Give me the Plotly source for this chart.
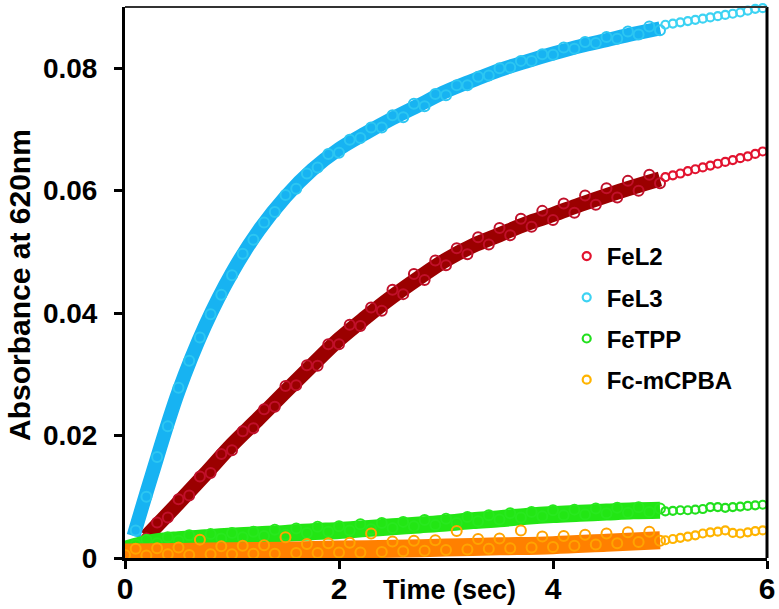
import plotly.graph_objects as go

# ---------------- data ----------------
series_names = ["FeL2", "FeL3", "FeTPP", "Fc-mCPBA"]

# smoothed centre of the dense band (0.25 s steps)
fel2_band_t = [0.20, 0.50, 0.75, 1.00, 1.25, 1.50, 1.75, 2.00, 2.25, 2.50, 2.75,
               3.00, 3.25, 3.50, 3.75, 4.00, 4.25, 4.50, 4.75, 5.00]
fel2_band_a = [0.0035, 0.0090, 0.0137, 0.0185, 0.0228, 0.0272, 0.0315, 0.0357, 0.0393,
               0.0427, 0.0458, 0.0487, 0.0510, 0.0528, 0.0546, 0.0561, 0.0577, 0.0592,
               0.0606, 0.0619]

fel3_band_t = [0.08, 0.25, 0.50, 0.75, 1.00, 1.25, 1.50, 1.75, 2.00, 2.25, 2.50, 2.75,
               3.00, 3.25, 3.50, 3.75, 4.00, 4.25, 4.50, 4.75, 5.00]
fel3_band_a = [0.0036, 0.0135, 0.0272, 0.0380, 0.0466, 0.0535, 0.0590, 0.0634, 0.0668,
               0.0694, 0.0718, 0.0740, 0.0762, 0.0780, 0.0797, 0.0811, 0.0824, 0.0836,
               0.0846, 0.0856, 0.0865]

fetpp_band_t = [0.00, 0.25, 0.50, 0.75, 1.00, 1.25, 1.50, 1.75, 2.00, 2.25, 2.50, 2.75,
                3.00, 3.25, 3.50, 3.75, 4.00, 4.25, 4.50, 4.75, 5.00]
fetpp_band_a = [0.0014, 0.0025, 0.0030, 0.0033, 0.0036, 0.0038, 0.0040, 0.0043, 0.0045,
                0.0048, 0.0051, 0.0054, 0.0057, 0.0061, 0.0064, 0.0068, 0.0071, 0.0073,
                0.0075, 0.0077, 0.0078]

fc_band_t = [0.0, 0.5, 1.0, 1.5, 2.0, 2.5, 3.0, 3.5, 4.0, 4.5, 5.0]
fc_band_a = [0.0009, 0.0010, 0.0011, 0.0012, 0.0014, 0.0015, 0.0017, 0.0019, 0.0021,
             0.0025, 0.0029]

# individual scattered readings around the band (0.1 s steps)
fel2_pts_t = [0.2, 0.3, 0.4, 0.5, 0.6, 0.7, 0.8, 0.9, 1.0, 1.1, 1.2, 1.3, 1.4, 1.5, 1.6,
              1.7, 1.8, 1.9, 2.0, 2.1, 2.2, 2.3, 2.4, 2.5, 2.6, 2.7, 2.8, 2.9, 3.0, 3.1,
              3.2, 3.3, 3.4, 3.5, 3.6, 3.7, 3.8, 3.9, 4.0, 4.1, 4.2, 4.3, 4.4, 4.5, 4.6,
              4.7, 4.8, 4.9, 5.0]
fel2_pts_a = [0.0032, 0.0058, 0.0066, 0.0096, 0.0102, 0.0133, 0.0139, 0.0170, 0.0176,
              0.0207, 0.0212, 0.0243, 0.0247, 0.0281, 0.0282, 0.0315, 0.0314, 0.0349,
              0.0349, 0.0381, 0.0379, 0.0409, 0.0404, 0.0438, 0.0431, 0.0464, 0.0454,
              0.0486, 0.0478, 0.0506, 0.0496, 0.0524, 0.0512, 0.0539, 0.0527, 0.0554,
              0.0541, 0.0567, 0.0552, 0.0579, 0.0564, 0.0592, 0.0577, 0.0604, 0.0589,
              0.0616, 0.0600, 0.0626, 0.0612]

fel3_pts_t = [0.1, 0.2, 0.3, 0.4, 0.5, 0.6, 0.7, 0.8, 0.9, 1.0, 1.1, 1.2, 1.3, 1.4, 1.5,
              1.6, 1.7, 1.8, 1.9, 2.0, 2.1, 2.2, 2.3, 2.4, 2.5, 2.6, 2.7, 2.8, 2.9, 3.0,
              3.1, 3.2, 3.3, 3.4, 3.5, 3.6, 3.7, 3.8, 3.9, 4.0, 4.1, 4.2, 4.3, 4.4, 4.5,
              4.6, 4.7, 4.8, 4.9, 5.0]
fel3_pts_a = [0.0045, 0.0100, 0.0165, 0.0215, 0.0278, 0.0322, 0.0360, 0.0398, 0.0430,
              0.0462, 0.0497, 0.0520, 0.0548, 0.0565, 0.0593, 0.0603, 0.0628, 0.0638,
              0.0660, 0.0662, 0.0683, 0.0686, 0.0703, 0.0703, 0.0723, 0.0720, 0.0742,
              0.0738, 0.0758, 0.0756, 0.0772, 0.0772, 0.0786, 0.0788, 0.0800, 0.0801,
              0.0812, 0.0812, 0.0823, 0.0822, 0.0834, 0.0832, 0.0843, 0.0841, 0.0851,
              0.0848, 0.0860, 0.0855, 0.0868, 0.0862]

fetpp_pts_t = [0.0, 0.1, 0.2, 0.3, 0.4, 0.5, 0.6, 0.7, 0.8, 0.9, 1.0, 1.1, 1.2, 1.3, 1.4,
               1.5, 1.6, 1.7, 1.8, 1.9, 2.0, 2.1, 2.2, 2.3, 2.4, 2.5, 2.6, 2.7, 2.8, 2.9,
               3.0, 3.1, 3.2, 3.3, 3.4, 3.5, 3.6, 3.7, 3.8, 3.9, 4.0, 4.1, 4.2, 4.3, 4.4,
               4.5, 4.6, 4.7, 4.8, 4.9, 5.0]
fetpp_pts_a = [0.0012, 0.0022, 0.0030, 0.0024, 0.0034, 0.0028, 0.0037, 0.0030, 0.0039,
               0.0032, 0.0041, 0.0034, 0.0043, 0.0036, 0.0046, 0.0038, 0.0048, 0.0041,
               0.0051, 0.0043, 0.0052, 0.0045, 0.0055, 0.0047, 0.0057, 0.0049, 0.0059,
               0.0052, 0.0062, 0.0054, 0.0064, 0.0057, 0.0067, 0.0060, 0.0070, 0.0063,
               0.0073, 0.0066, 0.0075, 0.0068, 0.0078, 0.0070, 0.0079, 0.0071, 0.0081,
               0.0073, 0.0082, 0.0074, 0.0083, 0.0075, 0.0081]

fc_pts_t = fetpp_pts_t
fc_pts_a = [0.0005, 0.0015, 0.0004, 0.0016, 0.0006, 0.0017, 0.0005, 0.0030, 0.0006,
            0.0019, 0.0006, 0.0020, 0.0007, 0.0021, 0.0007, 0.0034, 0.0008, 0.0023,
            0.0008, 0.0024, 0.0009, 0.0025, 0.0009, 0.0040, 0.0010, 0.0027, 0.0011,
            0.0028, 0.0012, 0.0029, 0.0013, 0.0044, 0.0014, 0.0031, 0.0015, 0.0032,
            0.0016, 0.0045, 0.0017, 0.0035, 0.0018, 0.0036, 0.0020, 0.0038, 0.0022,
            0.0040, 0.0024, 0.0042, 0.0026, 0.0043, 0.0028]

# sparse readings after 5 s
tail_t = [5.05, 5.12, 5.19, 5.26, 5.33, 5.40, 5.47, 5.54, 5.61, 5.68, 5.75, 5.82, 5.89, 5.96]
fel2_tail_a = [0.0622, 0.0625, 0.0628, 0.0632, 0.0635, 0.0638, 0.0641, 0.0644, 0.0647,
               0.0650, 0.0653, 0.0656, 0.0660, 0.0664]
fel3_tail_a = [0.0871, 0.0873, 0.0875, 0.0877, 0.0879, 0.0881, 0.0883, 0.0885, 0.0887,
               0.0889, 0.0891, 0.0894, 0.0897, 0.0898]
fetpp_tail_a = [0.0076, 0.0077, 0.0078, 0.0078, 0.0079, 0.0080, 0.0083, 0.0083, 0.0082,
                0.0083, 0.0084, 0.0085, 0.0086, 0.0087]
fc_tail_a = [0.0029, 0.0031, 0.0033, 0.0035, 0.0037, 0.0040, 0.0042, 0.0043, 0.0045,
             0.0041, 0.0040, 0.0042, 0.0044, 0.0045]

x_tickvals = [0, 2, 4, 6]
x_ticktext = ["0", "2", "4", "6"]
y_tickvals = [0, 0.02, 0.04, 0.06, 0.08]
y_ticktext = ["0", "0.02", "0.04", "0.06", "0.08"]

# ---------------- styling ----------------
FONT = "Liberation Sans, Arial, sans-serif"
styles = {
    "FeL2": dict(band="#9b0000", pts="#c0102a", tail="#e2132f", bw=15),
    "FeL3": dict(band="#17b3f2", pts="#2cc6f2", tail="#3dd3f3", bw=14),
    "FeTPP": dict(band="#22e614", pts="#28e81e", tail="#22e01e", bw=17),
    "Fc-mCPBA": dict(band="#ff8000", pts="#ffa400", tail="#ffb400", bw=18),
}
data = {
    "FeL2": (fel2_band_t, fel2_band_a, fel2_pts_t, fel2_pts_a, fel2_tail_a),
    "FeL3": (fel3_band_t, fel3_band_a, fel3_pts_t, fel3_pts_a, fel3_tail_a),
    "FeTPP": (fetpp_band_t, fetpp_band_a, fetpp_pts_t, fetpp_pts_a, fetpp_tail_a),
    "Fc-mCPBA": (fc_band_t, fc_band_a, fc_pts_t, fc_pts_a, fc_tail_a),
}

fig = go.Figure()
for name in series_names:
    bt, ba, pt, pa, ta = data[name]
    st = styles[name]
    fig.add_trace(go.Scatter(x=bt, y=ba, mode="lines", line=dict(color=st["band"], width=st["bw"], shape="spline"),
                             showlegend=False, hoverinfo="skip", legendgroup=name))
    fig.add_trace(go.Scatter(x=pt, y=pa, mode="markers",
                             marker=dict(symbol="circle-open", size=10, color=st["pts"], line=dict(width=2)),
                             showlegend=False, legendgroup=name))
    fig.add_trace(go.Scatter(x=tail_t, y=ta, mode="markers", name=name, cliponaxis=False,
                             marker=dict(symbol="circle-open", size=8, color=st["tail"], line=dict(width=2.2)),
                             legendgroup=name))

axis_common = dict(showgrid=False, zeroline=False, showline=True, linecolor="black", linewidth=3,
                   ticks="outside", ticklen=8, tickwidth=3, tickcolor="black", automargin=False)
fig.update_xaxes(range=[0, 6], tickvals=x_tickvals, ticktext=x_ticktext,
                 tickfont=dict(family=FONT, size=30, color="black", weight="bold"),
                 ticklabelstandoff=-6, **axis_common)
fig.update_yaxes(range=[0, 0.09], tickvals=y_tickvals, ticktext=y_ticktext,
                 tickfont=dict(family=FONT, size=28, color="black", weight="bold"),
                 ticklabelstandoff=11, **axis_common)

# frame: right and top border
fig.add_shape(type="line", xref="paper", yref="paper", x0=1, x1=1, y0=0, y1=1,
              line=dict(color="black", width=3))
fig.add_shape(type="line", xref="paper", yref="paper", x0=0, x1=1, y0=1, y1=1,
              line=dict(color="#333333", width=2))

fig.add_annotation(text="Time (sec)", xref="paper", yref="paper", x=0.505, y=-0.058,
                   xanchor="center", yanchor="middle", showarrow=False,
                   font=dict(family=FONT, size=27, color="black", weight="bold"))
fig.add_annotation(text="Absorbance at 620nm", xref="paper", yref="paper", x=-0.164, y=0.495,
                   xanchor="center", yanchor="middle", showarrow=False, textangle=-90,
                   font=dict(family=FONT, size=30, color="black", weight="bold"))

fig.update_layout(
    width=779, height=609,
    margin=dict(l=125, r=12, t=7, b=51, autoexpand=False),
    paper_bgcolor="white", plot_bgcolor="white",
    hovermode=False,
    legend=dict(x=0.688, y=0.588, xanchor="left", yanchor="top", traceorder="grouped",
                tracegroupgap=7, bgcolor="rgba(0,0,0,0)",
                font=dict(family=FONT, size=24, color="black", weight="bold")),
)

fig.write_html("out.html", config={"displayModeBar": False},
               post_script="document.body.style.margin='0';document.body.style.overflow='hidden';")
